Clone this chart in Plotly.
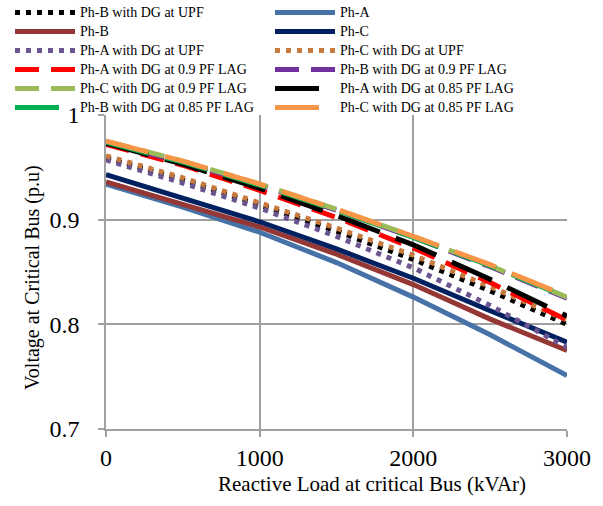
import plotly.graph_objects as go

# Reactive load at critical bus (kVAr)
x_kvar = [0, 500, 1000, 1500, 2000, 2500, 3000]

# Voltage at critical bus (p.u) per series
ph_b_upf = [0.959, 0.938, 0.914, 0.889, 0.862, 0.832, 0.800]
ph_a = [0.934, 0.912, 0.888, 0.859, 0.826, 0.790, 0.751]
ph_b = [0.936, 0.915, 0.893, 0.867, 0.838, 0.805, 0.775]
ph_c = [0.943, 0.921, 0.898, 0.872, 0.844, 0.813, 0.783]
ph_a_upf = [0.957, 0.935, 0.911, 0.884, 0.854, 0.818, 0.778]
ph_c_upf = [0.961, 0.940, 0.916, 0.892, 0.866, 0.836, 0.804]
ph_a_09 = [0.972, 0.952, 0.928, 0.902, 0.873, 0.840, 0.804]
ph_b_09 = [0.974, 0.955, 0.933, 0.909, 0.883, 0.855, 0.825]
ph_c_09 = [0.975, 0.956, 0.934, 0.910, 0.884, 0.856, 0.826]
ph_a_085 = [0.973, 0.953, 0.930, 0.904, 0.876, 0.843, 0.808]
ph_b_085 = [0.974, 0.955, 0.933, 0.909, 0.883, 0.856, 0.826]
ph_c_085 = [0.975, 0.956, 0.934, 0.910, 0.884, 0.857, 0.827]

x_ticks = [0, 1000, 2000, 3000]
y_ticks = [0.7, 0.8, 0.9, 1.0]
y_ticklabels = ["0.7", "0.8", "0.9", "1"]

DOT = "5px,6px"
DASH = "24px,12px"
LDASH = "44px,17px"

series = [
    ("Ph-B with DG at UPF", ph_b_upf, "#000000", DOT),
    ("Ph-A", ph_a, "#4672A8", "solid"),
    ("Ph-B", ph_b, "#953735", "solid"),
    ("Ph-C", ph_c, "#002060", "solid"),
    ("Ph-A with DG at UPF", ph_a_upf, "#6B5590", DOT),
    ("Ph-C with DG at UPF", ph_c_upf, "#C87A3C", DOT),
    ("Ph-A with DG at 0.9 PF LAG", ph_a_09, "#FF0000", DASH),
    ("Ph-B with DG at 0.9 PF LAG", ph_b_09, "#7030A0", DASH),
    ("Ph-C with DG at 0.9 PF LAG", ph_c_09, "#9BBB59", DASH),
    ("Ph-A with DG at 0.85 PF LAG", ph_a_085, "#000000", LDASH),
    ("Ph-B with DG at 0.85 PF LAG", ph_b_085, "#00B050", LDASH),
    ("Ph-C with DG at 0.85 PF LAG", ph_c_085, "#F79646", LDASH),
]

fig = go.Figure()
for name, vals, color, dash in series:
    fig.add_trace(go.Scatter(
        x=x_kvar, y=vals, mode="lines",
        name='<span style="font-size:14px">' + name + "</span>",
        line=dict(color=color, width=5, dash=dash),
    ))

GRID = "#A0A0A0"
FONT = "Liberation Serif, Times New Roman, serif"

W, H = 603, 506
L, R, T, B = 106, 36, 115, 77
pw, ph = W - L - R, H - T - B

fig.update_layout(
    width=W, height=H,
    margin=dict(l=L, r=R, t=T, b=B, autoexpand=False),
    paper_bgcolor="white", plot_bgcolor="white",
    font=dict(family=FONT, color="black"),
    showlegend=True,
    legend=dict(
        orientation="h",
        x=(10 - L) / pw, xanchor="left",
        y=(H - B + 2) / ph, yanchor="top",
        entrywidth=185, entrywidthmode="pixels",
        itemwidth=60,
        font=dict(family=FONT, size=11, color="black"),
        bgcolor="rgba(0,0,0,0)",
        traceorder="normal",
    ),
    xaxis=dict(
        range=[0, 3000], tickvals=x_ticks,
        showgrid=True, gridcolor=GRID, gridwidth=1.5,
        showline=True, linecolor=GRID, linewidth=1.5,
        ticks="outside", ticklen=6, tickcolor=GRID, tickwidth=1.5,
        tickfont=dict(family=FONT, size=24, color="black"),
        zeroline=False,
    ),
    yaxis=dict(
        range=[0.7, 1.0], tickvals=y_ticks, ticktext=y_ticklabels,
        showgrid=True, gridcolor=GRID, gridwidth=1.5,
        showline=True, linecolor=GRID, linewidth=1.5,
        ticks="outside", ticklen=6, tickcolor=GRID, tickwidth=1.5,
        tickfont=dict(family=FONT, size=24, color="black"),
        ticklabelstandoff=14,
        zeroline=False,
    ),
    annotations=[
        dict(text="Reactive Load at critical Bus (kVAr)", xref="paper", yref="paper",
             x=(372 - L) / pw, y=(H - B - 484) / ph, xanchor="center", yanchor="middle",
             showarrow=False, font=dict(family=FONT, size=21, color="black")),
        dict(text="Voltage at Critical Bus (p.u)", xref="paper", yref="paper",
             x=(32 - L) / pw, y=(H - B - 278) / ph, xanchor="center", yanchor="middle",
             textangle=-90, showarrow=False, font=dict(family=FONT, size=20, color="black")),
    ],
)

fig.write_html(
    "out.html",
    config={"displayModeBar": False},
    post_script="document.body.style.margin='0';document.body.style.overflow='hidden';",
)
